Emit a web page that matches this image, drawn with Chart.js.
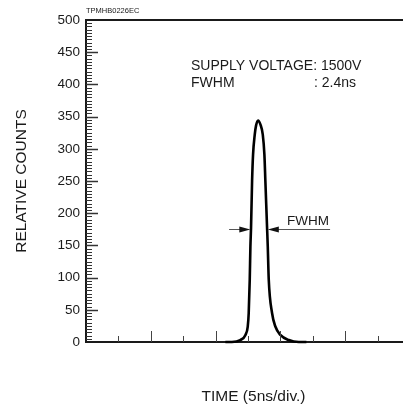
<!DOCTYPE html>
<html lang="en">
  <head>
    <meta charset="UTF-8" />
    <title>TPMHB0226EC</title>
    <style>
      html, body { margin: 0; padding: 0; background: #fff; }
      #pulseCanvas { display: block; }
    </style>
  </head>
  <body>
    <canvas id="pulseCanvas" width="403" height="411"></canvas>

    <script src="https://cdn.jsdelivr.net/npm/chart.js@4.4.1/dist/chart.umd.min.js"></script>
    <script>
        // pulse: time in ns (5ns per tick), relative counts
        const timeNs = [21.5, 22.5, 23.8, 24.6, 24.95, 25.1, 25.26, 25.36, 25.46, 25.62, 25.77, 26.03, 26.23, 26.54,
                        26.9, 27.27, 27.52, 27.67, 27.93, 28.04, 28.19, 28.7, 29.21, 29.98, 31.28, 32.82, 34];
        const counts = [0, 0, 3, 11, 24, 45, 97, 148, 178, 250, 291, 322, 336, 344,
                        338, 322, 291, 250, 178, 148, 97, 45, 24, 11, 3, 0, 0];

        const yTicks = [0, 50, 100, 150, 200, 250, 300, 350, 400, 450, 500];
        const xTicks = [5, 10, 15, 20, 25, 30, 35, 40, 45];
        const xLongTicks = [10, 20, 30, 40];
        const timeMax = 48.9;

        // FWHM marker
        const fwhmLevel = 175;
        const fwhmArrowTips = [25.35, 28.05];
        const fwhmArrowEnds = [22.07, 37.65];

        const fontFamily = '"Liberation Sans", Arial, Helvetica, sans-serif';
        const ink = '#1a1a1a';

        let pulsePoints = timeNs.map(function (t, i) { return { x: t, y: counts[i] }; });

        // tick marks inside the frame, top frame line, FWHM arrows and texts
        let framePlugin = {
            id: 'frame',
            afterDraw: function (chart) {
                let ctx = chart.ctx;
                let area = chart.chartArea;
                let xs = chart.scales.x;
                let ys = chart.scales.y;
                ctx.save();

                // top line
                ctx.strokeStyle = ink;
                ctx.lineWidth = 2;
                ctx.beginPath();
                ctx.moveTo(area.left, area.top);
                ctx.lineTo(area.right, area.top);
                ctx.stroke();

                // y ticks, minor every 5
                ctx.strokeStyle = '#333';
                for (let v = 5; v < 500; v += 5) {
                    let y = Math.round(ys.getPixelForValue(v)) + 0.5;
                    let len = (v % 50 === 0) ? 12 : 6;
                    ctx.lineWidth = (v % 50 === 0) ? 1.5 : 1;
                    ctx.beginPath();
                    ctx.moveTo(area.left, y);
                    ctx.lineTo(area.left + len, y);
                    ctx.stroke();
                }

                // x ticks
                ctx.lineWidth = 1;
                ctx.strokeStyle = '#444';
                xTicks.forEach(function (t) {
                    let x = Math.round(xs.getPixelForValue(t)) + 0.5;
                    let len = xLongTicks.indexOf(t) >= 0 ? 11 : 6;
                    ctx.beginPath();
                    ctx.moveTo(x, area.bottom);
                    ctx.lineTo(x, area.bottom - len);
                    ctx.stroke();
                });

                // FWHM arrows
                let fy = Math.round(ys.getPixelForValue(fwhmLevel)) + 0.5;
                let tipL = xs.getPixelForValue(fwhmArrowTips[0]);
                let tipR = xs.getPixelForValue(fwhmArrowTips[1]);
                let endL = xs.getPixelForValue(fwhmArrowEnds[0]);
                let endR = xs.getPixelForValue(fwhmArrowEnds[1]);
                ctx.strokeStyle = '#555';
                ctx.lineWidth = 1.2;
                ctx.beginPath();
                ctx.moveTo(endL, fy);
                ctx.lineTo(tipL - 8, fy);
                ctx.moveTo(tipR + 8, fy);
                ctx.lineTo(endR, fy);
                ctx.stroke();
                ctx.fillStyle = '#111';
                ctx.beginPath();
                ctx.moveTo(tipL, fy);
                ctx.lineTo(tipL - 11, fy - 3);
                ctx.lineTo(tipL - 11, fy + 3);
                ctx.closePath();
                ctx.fill();
                ctx.beginPath();
                ctx.moveTo(tipR, fy);
                ctx.lineTo(tipR + 11, fy - 3);
                ctx.lineTo(tipR + 11, fy + 3);
                ctx.closePath();
                ctx.fill();

                // texts
                ctx.fillStyle = ink;
                ctx.textBaseline = 'middle';
                ctx.textAlign = 'left';
                ctx.font = '13.5px ' + fontFamily;
                ctx.fillText('FWHM', 287, fy - 8);
                ctx.font = '14px ' + fontFamily;
                ctx.fillText('SUPPLY VOLTAGE: 1500V', 191, 66);
                ctx.fillText('FWHM', 191, 83);
                ctx.fillText(': 2.4ns', 314, 83);

                ctx.font = '7.5px ' + fontFamily;
                ctx.fillText('TPMHB0226EC', area.left, 11);

                ctx.font = '15.5px ' + fontFamily;
                ctx.textAlign = 'center';
                ctx.fillText('TIME (5ns/div.)', (area.left + area.right) / 2 + 9, 397);

                ctx.restore();
            }
        };

        let pulseChartDraw = function () {
            let ctx = document.getElementById('pulseCanvas').getContext('2d');

            window.pulseChart = new Chart(ctx, {
                type: 'scatter',
                data: {
                    datasets: [{
                        data: pulsePoints,
                        showLine: true,
                        borderColor: '#000',
                        borderWidth: 2.6,
                        pointRadius: 0,
                        cubicInterpolationMode: 'monotone',
                        clip: false
                    }]
                },
                options: {
                    responsive: false,
                    animation: false,
                    devicePixelRatio: 1,
                    layout: { padding: { top: 20, right: 0, bottom: 0, left: 0 } },
                    plugins: {
                        legend: { display: false },
                        tooltip: { enabled: false }
                    },
                    scales: {
                        x: {
                            type: 'linear',
                            min: 0,
                            max: timeMax,
                            grid: { display: false, drawTicks: false },
                            border: { display: true, color: ink, width: 2 },
                            ticks: { display: false },
                            afterFit: function (scale) { scale.height = 69; }
                        },
                        y: {
                            min: 0,
                            max: 500,
                            afterBuildTicks: function (scale) {
                                scale.ticks = yTicks.map(function (v) { return { value: v }; });
                            },
                            grid: { display: false, drawTicks: false },
                            border: { display: true, color: ink, width: 2 },
                            ticks: {
                                color: ink,
                                padding: 6,
                                font: { family: fontFamily, size: 13.5 }
                            },
                            title: {
                                display: true,
                                text: 'RELATIVE COUNTS',
                                color: ink,
                                font: { family: fontFamily, size: 15.5 },
                                padding: { top: 12, bottom: 0 }
                            },
                            afterFit: function (scale) { scale.width = 86; }
                        }
                    }
                },
                plugins: [framePlugin]
            });
        };

        window.onload = function () {
            pulseChartDraw();
        };
    </script>
  </body>
</html>
